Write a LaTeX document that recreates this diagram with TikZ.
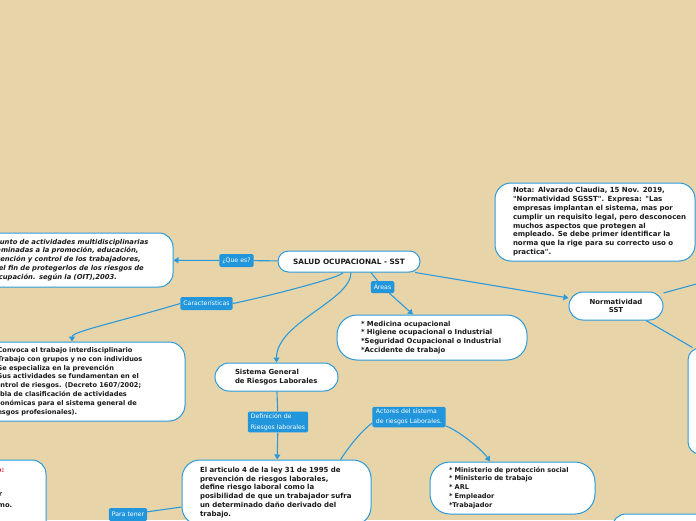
\documentclass[tikz,border=0pt]{standalone}
\usepackage{fontspec}
\setmainfont{DejaVu Sans}[Ligatures=TeXOff,BoldItalicFont={DejaVu Sans Bold Oblique},ItalicFont={DejaVu Sans Oblique}]
\usetikzlibrary{arrows.meta}
\definecolor{bg}{HTML}{E8D4A9}
\definecolor{mmblue}{HTML}{2B9ADB}
\definecolor{lblblue}{HTML}{2196DC}
\definecolor{txt}{HTML}{1A1A1A}
\definecolor{redtxt}{HTML}{D0203A}
\newcommand\txtlines[1]{\begin{tabular}{@{}l@{}}#1\end{tabular}}
\newcommand\bsize[1]{\fontsize{#1}{8.8}\selectfont\bfseries}
\tikzset{
  box/.style={draw=mmblue, line width=1pt, fill=white, text=txt,
    font=\bsize{6.8}, align=left, inner ysep=0pt},
  lbl/.style={fill=lblblue, text=white, font=\fontsize{6.2}{10.5}\selectfont,
    inner xsep=3pt, inner ysep=2pt, minimum height=13pt, rounded corners=1.5pt, align=left},
  conn/.style={draw=mmblue, line width=1.1pt},
  arr/.style={conn, -{Triangle[length=5pt,width=6pt]}},
  frag/.style={font=\bsize{6.8}, text=txt, inner sep=0pt},
}
\begin{document}
\begin{tikzpicture}[x=1pt,y=-1pt]
\useasboundingbox (0,0) rectangle (696,520);
\fill[bg] (0,0) rectangle (696,520);
\clip (0,0) rectangle (696,520);

% central
\node[box, rounded corners=10.5pt, minimum width=142pt, minimum height=21pt, align=center,
  font=\bsize{7.3}] (C) at (349,261.5) {SALUD OCUPACIONAL - SST};

% que es
\node[box, rounded corners=14pt, minimum width=210pt, minimum height=54pt, text width=170pt,
  inner xsep=20pt, font=\bsize{6.8}\itshape] (Q) at (68,260)
  {\txtlines{Conjunto de actividades multidisciplinarias\\encaminadas a la promoción, educación,\\prevención y control de los trabajadores,\\con el fin de protegerlos de los riesgos de\\su ocupación. según la (OIT),2003.}};

% caracteristicas
\node[box, rounded corners=16pt, minimum width=213pt, minimum height=79pt, text width=173pt,
  inner xsep=20pt, font=\bsize{6.6}] (K) at (78.5,381.5)
  {\txtlines{* Convoca el trabajo interdisciplinario\\{}* Trabajo con grupos y no con individuos\\{}* Se especializa en la prevención\\{}* Sus actividades se fundamentan en el\\control de riesgos. (Decreto 1607/2002;\\Tabla de clasificación de actividades\\económicas para el sistema general de\\riesgos profesionales).}};

% sistema general
\node[box, rounded corners=14pt, minimum width=123pt, minimum height=28pt, text width=83pt,
  inner xsep=20pt, font=\bsize{6.9}] (S) at (276.5,377) {\txtlines{Sistema General\\de Riesgos Laborales}};

% articulo
\node[box, rounded corners=18pt, minimum width=189pt, minimum height=65pt, text width=153pt,
  inner xsep=18pt, font=\bsize{7}] (A) at (276.5,492.5)
  {\txtlines{El articulo 4 de la ley 31 de 1995 de\\prevención de riesgos laborales,\\define riesgo laboral como la\\posibilidad de que un trabajador sufra\\un determinado daño derivado del\\trabajo.}};

% areas
\node[box, rounded corners=20pt, minimum width=190pt, minimum height=45pt, text width=142pt,
  inner xsep=24pt, font=\bsize{6.9}] (R) at (432,337.5)
  {\txtlines{* Medicina ocupacional\\{}* Higiene ocupacional o Industrial\\{}*Seguridad Ocupacional o Industrial\\{}*Accidente de trabajo}};

% normatividad
\node[box, rounded corners=14pt, minimum width=94pt, minimum height=28pt, align=center,
  font=\bsize{6.9}] (N) at (616,306) {Normatividad\\SST};

% nota
\node[box, rounded corners=16pt, minimum width=200pt, minimum height=78pt, text width=164pt,
  inner xsep=18pt, font=\bsize{7}] (T) at (595,222)
  {\txtlines{Nota: Alvarado Claudia, 15 Nov. 2019,\\"Normatividad SGSST". Expresa: "Las\\empresas implantan el sistema, mas por\\cumplir un requisito legal, pero desconocen\\muchos aspectos que protegen al\\empleado. Se debe primer identificar la\\norma que la rige para su correcto uso o\\practica".}};

% actores
\node[box, rounded corners=20pt, minimum width=165pt, minimum height=52pt, text width=127pt,
  inner xsep=19pt, font=\bsize{6.6}] (Ac) at (512.5,488)
  {\txtlines{* Ministerio de protección social\\{}* Ministerio de trabajo\\{}* ARL\\{}* Empleador\\{}*Trabajador}};

% partially visible boxes
\node[box, rounded corners=12pt, minimum width=112pt, minimum height=106pt] (RB) at (744,401) {};
\node[box, rounded corners=14pt, minimum width=188pt, minimum height=86pt] (BR) at (706,557) {};
\node[box, rounded corners=14pt, minimum width=146pt, minimum height=140pt] (BL) at (-27,530) {};
\node[frag, text=redtxt, anchor=base east] (bl1) at (4.5,472) {Ejemplo:};
\node[frag, anchor=base east] (bl2) at (2.5,496) {trabajador};
\node[frag, anchor=base east] (bl3) at (12.5,507) {él mismo.};

% labels
\node[lbl] (L1) at (236.5,260.5) {¿Que es?};
\node[lbl] (L2) at (206.5,303.5) {Características};
\node[lbl, minimum height=12pt] (L4) at (382.5,287) {Áreas};
\node[lbl] (L3) at (278,422) {Definición de\\Riesgos laborales};
\node[lbl, inner xsep=3.5pt] (L5) at (409,417) {Actores del sistema\\de riesgos Laborales.};
\node[lbl] (L6) at (128,514.5) {Para tener};
\coordinate (offR) at (700,283);

% connectors
\draw[conn] (C) -- (L1);
\draw[arr] (L1) -- (Q);
\draw[conn] ([xshift=-6pt]C.south) .. controls +(-1,5) and +(30,-6) .. (L2.east);
\draw[arr] (L2.west) .. controls +(-60,18) and +(0,-10) .. ([xshift=-6.5pt]K.north);
\draw[arr] ([xshift=2pt]C.south) .. controls +(0,28) and +(0,-40) .. (S.north);
\draw[conn] (S) -- (L3);
\draw[arr] (L3) -- (A);
\draw[conn] ([xshift=22pt]C.south) -- (L4);
\draw[arr] (L4) -- ([xshift=-19pt]R.north);
\draw[arr] (C) -- ([yshift=8pt]N.west);
\draw[conn] (N) -- (offR);
\draw[conn] ([xshift=30pt]N.south) -- ([xshift=5pt]RB.north west);
\draw[conn] ([xshift=64pt]A.north) .. controls +(10,-15) and +(-10,7) .. ([yshift=-6pt]L5.west);
\draw[arr] ([yshift=-9pt]L5.east) .. controls +(12,4) and +(-8,-12) .. ([xshift=-22.5pt]Ac.north);
\draw[conn] ([yshift=-14.5pt]A.west) -- (L6);
\end{tikzpicture}
\end{document}
